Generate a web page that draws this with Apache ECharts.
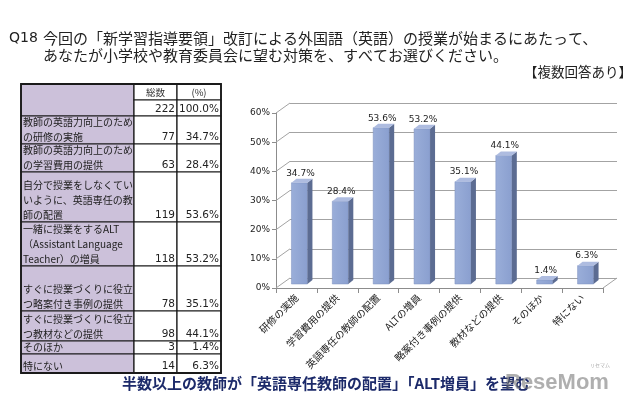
<!DOCTYPE html>
<html><head><meta charset="utf-8">
<script src="https://cdn.jsdelivr.net/npm/echarts@6/dist/echarts.min.js"></script>
<style>html,body{margin:0;padding:0;background:#fff}#c{width:640px;height:410px}</style>
</head><body><div id="c"></div>
<script>
// ---- data ----
const categories = ['研修の実施', '学習費用の提供', '英語専任の教師の配置', 'ALTの増員', '略案付き事例の提供', '教材などの提供', 'そのほか', '特にない'];
const percentValues = [34.7, 28.4, 53.6, 53.2, 35.1, 44.1, 1.4, 6.3];
const yTickValues = [0, 10, 20, 30, 40, 50, 60];
const tableHeaders = ['総数', '(%)'];
const tableRowLabels = ['', '教師の英語力向上のため\nの研修の実施', '教師の英語力向上のため\nの学習費用の提供', '自分で授業をしなくてい\nいように、英語専任の教\n師の配置', '一緒に授業をするALT\n（Assistant Language\nTeacher）の増員', '\nすぐに授業づくりに役立\nつ略案付き事例の提供', 'すぐに授業づくりに役立\nつ教材などの提供', 'そのほか', '特にない'];
const tableCounts = [222, 77, 63, 119, 118, 78, 98, 3, 14];
const tablePercents = [100.0, 34.7, 28.4, 53.6, 53.2, 35.1, 44.1, 1.4, 6.3];
const titleQ = 'Q18';
const titleLines = ['今回の「新学習指導要領」改訂による外国語（英語）の授業が始まるにあたって、', 'あなたが小学校や教育委員会に望む対策を、すべてお選びください。'];
const noteText = '【複数回答あり】';
const captionText = '半数以上の教師が「英語専任教師の配置」「ALT増員」を望む';
const watermarkText = 'ReseMom';

// ---- styles / layout ----
const JP = '"Noto Sans CJK JP", sans-serif';
const NUM = '"DejaVu Sans", sans-serif';
const LINE = '#1a1a1a';
const PURPLE = '#ccc1da';
const GRID = '#a3a3a3';

const chart = echarts.init(document.getElementById('c'), null, { renderer: 'canvas' });

const g = [];
// title
g.push({ type: 'text', left: 9, top: 31, style: { text: titleQ, fontSize: 14, fontFamily: NUM, fill: '#222' } });
g.push({ type: 'text', left: 43, top: 31, style: { text: titleLines[0], fontSize: 15, fontFamily: JP, fill: '#222' } });
g.push({ type: 'text', left: 43, top: 48, style: { text: titleLines[1], fontSize: 15, fontFamily: JP, fill: '#222' } });
g.push({ type: 'text', right: 8, top: 65, style: { text: noteText, fontSize: 13.5, fontFamily: JP, fill: '#222' } });

// table
const rowEdges = [84, 100, 116, 144, 172, 222, 266, 311, 341, 354, 373];
const colEdges = [21, 134, 177, 221];
function cell(x0, y0, x1, y1, fill) {
  g.push({ type: 'rect', shape: { x: x0, y: y0, width: x1 - x0, height: y1 - y0 }, style: { fill: fill, stroke: LINE, lineWidth: 1.2 } });
}
cell(colEdges[0], rowEdges[0], colEdges[1], rowEdges[2], PURPLE);
cell(colEdges[1], rowEdges[0], colEdges[2], rowEdges[1], '#fff');
cell(colEdges[2], rowEdges[0], colEdges[3], rowEdges[1], '#fff');
tableHeaders.forEach((h, k) => {
  g.push({ type: 'text', style: { text: h, x: (colEdges[k + 1] + colEdges[k + 2]) / 2, y: (rowEdges[0] + rowEdges[1]) / 2 + 0.5, align: 'center', verticalAlign: 'middle', fontSize: 9.5, fontFamily: JP, fill: '#333' } });
});
tableRowLabels.forEach((lab, i) => {
  const y0 = rowEdges[i + 1], y1 = rowEdges[i + 2];
  if (i > 0) cell(colEdges[0], y0, colEdges[1], y1, PURPLE);
  cell(colEdges[1], y0, colEdges[2], y1, '#fff');
  cell(colEdges[2], y0, colEdges[3], y1, '#fff');
  if (lab) g.push({ type: 'text', style: { text: lab, x: colEdges[0] + 2, y: y1 + 0.5, verticalAlign: 'bottom', lineHeight: 15, fontSize: 10, fontFamily: JP, fill: '#222' } });
  g.push({ type: 'text', style: { text: String(tableCounts[i]), x: colEdges[2] - 2, y: y1 + 0.5, align: 'right', verticalAlign: 'bottom', lineHeight: 15, fontSize: 10.5, fontFamily: NUM, fill: '#222' } });
  g.push({ type: 'text', style: { text: tablePercents[i].toFixed(1) + '%', x: colEdges[3] - 2, y: y1 + 0.5, align: 'right', verticalAlign: 'bottom', lineHeight: 15, fontSize: 10.5, fontFamily: NUM, fill: '#222' } });
});
g.push({ type: 'rect', shape: { x: colEdges[0], y: rowEdges[0], width: colEdges[3] - colEdges[0], height: rowEdges[rowEdges.length - 1] - rowEdges[0] }, style: { fill: 'none', stroke: LINE, lineWidth: 1.8 } });

// caption + watermark
g.push({ type: 'text', left: 122, top: 376, style: { text: captionText, fontSize: 15, fontWeight: 'bold', fontFamily: JP, fill: '#1c2a6a' } });
g.push({ type: 'text', left: 505, top: 372, style: { text: watermarkText, fontSize: 22, fontWeight: 'bold', fontFamily: '"Liberation Sans", sans-serif', fill: 'rgba(110,110,110,0.55)' } });
g.push({ type: 'text', left: 590, top: 363, style: { text: 'リセマム', fontSize: 5, fontFamily: JP, fill: 'rgba(110,110,110,0.6)' } });

function wall(params, api) {
  const cs = params.coordSys;
  const v = api.value(1);
  const y = api.coord([0, v])[1];
  const ch = [{ type: 'line', shape: { x1: cs.x, y1: y, x2: cs.x + 14, y2: y - 10 }, style: { stroke: GRID, lineWidth: 1 } }];
  if (v === 0) ch.push({ type: 'line', shape: { x1: cs.x + cs.width, y1: y, x2: cs.x + cs.width + 14, y2: y - 10 }, style: { stroke: GRID, lineWidth: 1 } });
  return { type: 'group', children: ch };
}

function bar3d(params, api) {
  const i = api.value(0), v = api.value(1);
  const base = api.coord([i, 0]);
  const top = api.coord([i, v]);
  const cx = base[0] + 3, w = 16, dx = 5, dy = 4, off = 4;
  const x0 = cx - w / 2, x1 = cx + w / 2, yb = base[1] - off, yt = top[1] - off;
  return {
    type: 'group', children: [
      { type: 'rect', shape: { x: x0, y: yt, width: w, height: yb - yt }, style: { fill: new echarts.graphic.LinearGradient(0, 0, 1, 0, [{ offset: 0, color: '#9aaed9' }, { offset: 1, color: '#8a9fcf' }]), stroke: '#7d90bf', lineWidth: 0.5 } },
      { type: 'polygon', shape: { points: [[x1, yt], [x1 + dx, yt - dy], [x1 + dx, yb - dy], [x1, yb]] }, style: { fill: '#5c6c92' } },
      { type: 'polygon', shape: { points: [[x0, yt], [x0 + dx, yt - dy], [x1 + dx, yt - dy], [x1, yt]] }, style: { fill: '#aebce0' } },
      { type: 'text', style: { text: v.toFixed(1) + '%', x: cx + 1, y: yt - 5, align: 'center', verticalAlign: 'bottom', fontSize: 9, fontFamily: NUM, fill: '#222' } }
    ]
  };
}

const option = {
  animation: false,
  backgroundColor: '#fff',
  grid: [
    { left: 276, right: 37, top: 113, bottom: 122 },
    { left: 290, right: 23, top: 103, bottom: 132 }
  ],
  xAxis: [
    { gridIndex: 0, type: 'category', data: categories,
      axisLine: { lineStyle: { color: '#8c8c8c' } },
      axisTick: { show: true, length: 5, lineStyle: { color: '#8c8c8c' } },
      axisLabel: { interval: 0, rotate: 45, fontSize: 10, fontFamily: JP, color: '#222', margin: 8 } },
    { gridIndex: 1, type: 'category', data: categories, show: false }
  ],
  yAxis: [
    { gridIndex: 0, type: 'value', min: 0, max: 60, interval: 10,
      axisLine: { show: true, lineStyle: { color: '#8c8c8c' } },
      axisTick: { show: true, length: 4, lineStyle: { color: '#8c8c8c' } },
      axisLabel: { formatter: '{value}%', fontSize: 9, fontFamily: NUM, color: '#222', margin: 6 },
      splitLine: { show: false } },
    { gridIndex: 1, type: 'value', min: 0, max: 60, interval: 10,
      axisLine: { show: false }, axisTick: { show: false }, axisLabel: { show: false },
      splitLine: { show: true, lineStyle: { color: GRID, width: 1 } } }
  ],
  series: [
    { type: 'custom', xAxisIndex: 0, yAxisIndex: 0, data: yTickValues.map(v => [0, v]), renderItem: wall, silent: true, z: 1 },
    { type: 'custom', xAxisIndex: 0, yAxisIndex: 0, data: percentValues.map((v, i) => [i, v]), renderItem: bar3d, z: 3 }
  ],
  graphic: g
};
chart.setOption(option);
</script>
</body></html>
